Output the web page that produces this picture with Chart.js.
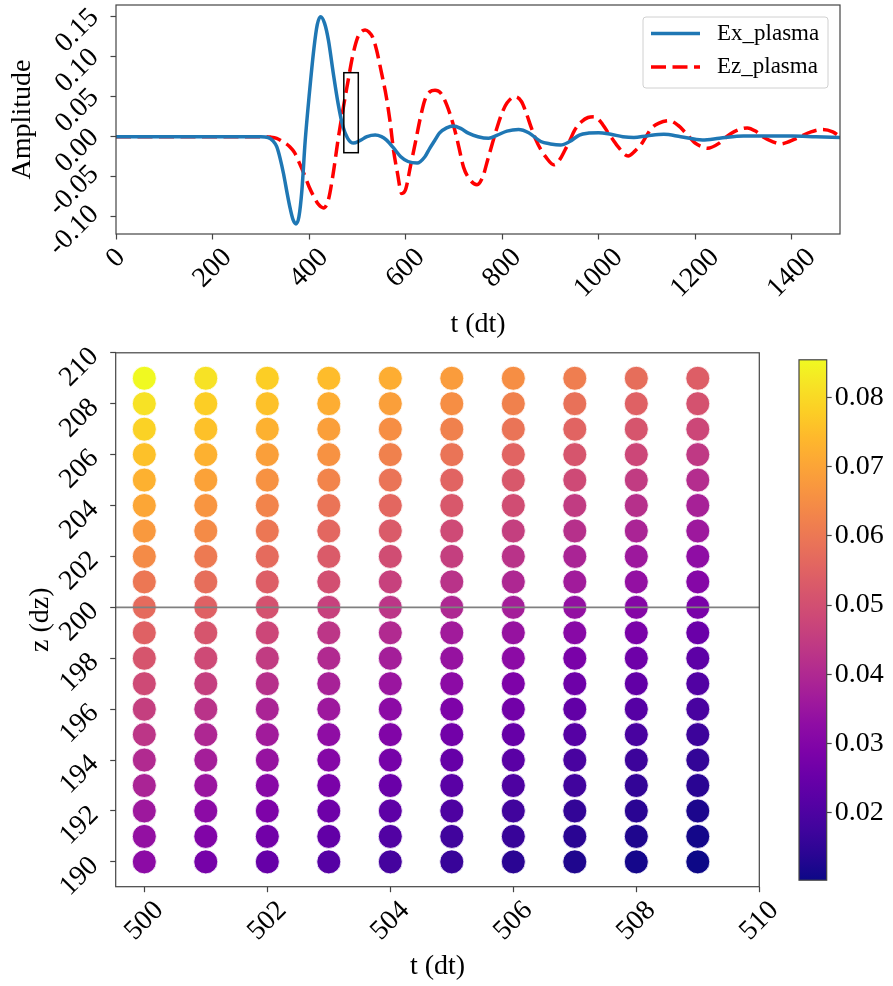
<!DOCTYPE html>
<html>
<head>
<meta charset="utf-8">
<title>Ex / Ez plasma</title>
<script src="https://cdn.jsdelivr.net/npm/chart.js@4.4.1/dist/chart.umd.min.js"></script>
<style>
  html, body { margin: 0; padding: 0; background: #fff; }
  #wrap { position: relative; width: 893px; height: 986px; }
  canvas { position: absolute; }
  #chartSenal { left: 0; top: 0; }
  #chartPuntos { left: 0; top: 340px; }
  #chartEscala { left: 780px; top: 340px; }
</style>
</head>
<body>
<div id="wrap">
  <canvas id="chartSenal" width="893" height="341"></canvas>
  <canvas id="chartPuntos" width="893" height="646"></canvas>
  <canvas id="chartEscala" width="113" height="560"></canvas>
</div>
<script>
// --- señal temporal (panel superior)
const exT = [0, 100, 200, 300, 315, 325, 333, 340, 347, 355, 361, 367, 373, 379, 385, 392, 400, 410, 417, 424,
  432, 440, 450, 460, 470, 480, 492, 505, 520, 537, 550, 560, 575, 590, 605, 624, 640, 650, 660, 670,
  685, 699, 715, 730, 750, 772, 790, 810, 834, 855, 880, 900, 921, 940, 960, 980, 1000, 1025, 1050, 1073,
  1100, 1135, 1170, 1215, 1250, 1300, 1350, 1400, 1450, 1500];
const exAmp = [0, 0, 0, 0, -0.001, -0.005, -0.0125, -0.027, -0.046, -0.072, -0.090, -0.104, -0.109, -0.100, -0.068, -0.005, 0.050, 0.110, 0.140, 0.150,
  0.142, 0.121, 0.080, 0.042, 0.013, -0.002, -0.008, -0.005, 0.000, 0.002, 0.000, -0.004, -0.014, -0.025, -0.031, -0.033, -0.025, -0.0145, -0.005, 0.0045,
  0.011, 0.0134, 0.010, 0.0045, 0.000, -0.002, 0.002, 0.007, 0.009, 0.005, -0.006, -0.009, -0.0104, -0.006, 0.002, 0.0045, 0.005, 0.003, 0.000, -0.001,
  0.001, 0.003, 0.000, -0.004, -0.002, 0.001, 0.001, 0.001, 0.000, -0.001];

const ezT = [0, 100, 200, 300, 320, 333, 345, 360, 370, 380, 390, 400, 410, 420, 430, 440, 450, 460, 470, 480,
  490, 500, 508, 516, 524, 532, 540, 550, 560, 568, 575, 583, 592, 600, 610, 620, 630, 640, 650, 661,
  672, 685, 700, 710, 720, 735, 748, 760, 770, 780, 790, 800, 810, 827, 840, 850, 860, 870, 880, 890,
  907, 920, 930, 940, 950, 965, 978, 990, 1005, 1020, 1030, 1040, 1061, 1075, 1090, 1100, 1110, 1125, 1146, 1165,
  1180, 1200, 1212, 1225, 1250, 1265, 1280, 1308, 1325, 1340, 1360, 1377, 1395, 1410, 1440, 1464, 1485, 1500];
const ezAmp = [0, 0, 0, 0, -0.0005, -0.002, -0.006, -0.0125, -0.020, -0.033, -0.047, -0.0625, -0.075, -0.085, -0.089, -0.079, -0.046, -0.004, 0.033, 0.067,
  0.100, 0.123, 0.131, 0.1335, 0.131, 0.124, 0.108, 0.080, 0.050, 0.018, -0.017, -0.045, -0.071, -0.066, -0.037, -0.008, 0.022, 0.046, 0.056, 0.058,
  0.055, 0.040, 0.0125, -0.012, -0.038, -0.055, -0.060, -0.050, -0.029, -0.008, 0.0125, 0.030, 0.042, 0.050, 0.044, 0.0295, 0.012, -0.004, -0.016, -0.025,
  -0.035, -0.028, -0.017, -0.005, 0.008, 0.019, 0.024, 0.025, 0.018, 0.0045, -0.004, -0.0125, -0.024, -0.018, -0.008, 0.002, 0.011, 0.017, 0.020, 0.014,
  0.005, -0.008, -0.012, -0.0145, -0.008, 0.000, 0.006, 0.011, 0.007, 0.000, -0.006, -0.009, -0.006, -0.002, 0.006, 0.009, 0.006, 0.000];

const tTicks = [0, 200, 400, 600, 800, 1000, 1200, 1400];
const ampTicks = [-0.10, -0.05, 0.00, 0.05, 0.10, 0.15];
// ventana ampliada abajo
const boxT = [472, 502];
const boxAmp = [-0.02, 0.08];

// --- malla t-z (panel inferior), cada columna de z=190 a z=209
const tSteps = [500, 501, 502, 503, 504, 505, 506, 507, 508, 509];
const zCells = [190, 191, 192, 193, 194, 195, 196, 197, 198, 199, 200, 201, 202, 203, 204, 205, 206, 207, 208, 209];
const amp500 = [0.0321, 0.0336, 0.0358, 0.0388, 0.0403, 0.0433, 0.0456, 0.0486, 0.0516, 0.0546, 0.0569, 0.0599, 0.0644, 0.0674, 0.0704, 0.0726, 0.0756, 0.0786, 0.0816, 0.0854];
const amp501 = [0.0276, 0.0298, 0.0321, 0.0351, 0.0373, 0.0396, 0.0426, 0.0456, 0.0486, 0.0516, 0.0546, 0.0576, 0.0606, 0.0644, 0.0666, 0.0696, 0.0726, 0.0756, 0.0779, 0.0816];
const amp502 = [0.0246, 0.0268, 0.0291, 0.0313, 0.0343, 0.0366, 0.0388, 0.0418, 0.0448, 0.0479, 0.0509, 0.0539, 0.0569, 0.0599, 0.0629, 0.0659, 0.0689, 0.0726, 0.0756, 0.0779];
const amp503 = [0.0216, 0.0238, 0.0261, 0.0283, 0.0306, 0.0328, 0.0358, 0.0381, 0.0403, 0.0433, 0.0463, 0.0501, 0.0531, 0.0561, 0.0591, 0.0629, 0.0659, 0.0689, 0.0719, 0.0749];
const amp504 = [0.0186, 0.0208, 0.0231, 0.0253, 0.0276, 0.0298, 0.0321, 0.0351, 0.0373, 0.0403, 0.0433, 0.0463, 0.0494, 0.0531, 0.0561, 0.0591, 0.0621, 0.0651, 0.0689, 0.0719];
const amp505 = [0.0163, 0.0178, 0.0201, 0.0223, 0.0246, 0.0268, 0.0291, 0.0321, 0.0343, 0.0366, 0.0396, 0.0426, 0.0456, 0.0486, 0.0524, 0.0554, 0.0591, 0.0621, 0.0651, 0.0681];
const amp506 = [0.0141, 0.0163, 0.0178, 0.0201, 0.0223, 0.0246, 0.0268, 0.0291, 0.0321, 0.0343, 0.0373, 0.0396, 0.0426, 0.0456, 0.0494, 0.0524, 0.0554, 0.0591, 0.0621, 0.0651];
const amp507 = [0.0126, 0.0141, 0.0156, 0.0178, 0.0193, 0.0216, 0.0238, 0.0261, 0.0283, 0.0313, 0.0336, 0.0366, 0.0388, 0.0418, 0.0448, 0.0486, 0.0516, 0.0554, 0.0584, 0.0614];
const amp508 = [0.0114, 0.0126, 0.0141, 0.0156, 0.0171, 0.0193, 0.0216, 0.0238, 0.0261, 0.0283, 0.0306, 0.0336, 0.0358, 0.0388, 0.0418, 0.0448, 0.0479, 0.0516, 0.0546, 0.0576];
const amp509 = [0.0103, 0.0112, 0.0122, 0.0141, 0.0156, 0.0171, 0.0193, 0.0208, 0.0231, 0.0253, 0.0283, 0.0306, 0.0328, 0.0358, 0.0381, 0.0411, 0.0441, 0.0479, 0.0509, 0.0539];
const ampColumns = [amp500, amp501, amp502, amp503, amp504, amp505, amp506, amp507, amp508, amp509];

const gridTTicks = [500, 502, 504, 506, 508, 510];
const gridZTicks = [190, 192, 194, 196, 198, 200, 202, 204, 206, 208, 210];
const colorbarTicks = [0.02, 0.03, 0.04, 0.05, 0.06, 0.07, 0.08];
const lineaZ = 200;

const fuente = "'Liberation Serif', 'Times New Roman', serif";
Chart.defaults.font.family = fuente;
Chart.defaults.color = '#000';

// mapa de color "plasma"
const plasma = [
  [13, 8, 135], [65, 4, 157], [106, 0, 168], [143, 13, 164], [177, 42, 144], [204, 71, 120],
  [225, 100, 98], [242, 132, 75], [252, 166, 54], [252, 206, 37], [240, 249, 33]
];
const plasmaMid = [
  [42, 5, 147], [86, 1, 164], [126, 3, 168], [161, 27, 155], [191, 57, 132],
  [214, 85, 109], [234, 116, 87], [248, 149, 64], [254, 184, 44], [247, 226, 37]
];
// paleta de 21 pasos intercalando los puntos medios
const paleta = [];
plasma.forEach((c, i) => { paleta.push(c); if (i < plasmaMid.length) paleta.push(plasmaMid[i]); });

function colorPlasma(f) {
  f = Math.max(0, Math.min(1, f));
  const p = f * (paleta.length - 1);
  const i = Math.min(Math.floor(p), paleta.length - 2);
  const r = p - i;
  const a = paleta[i], b = paleta[i + 1];
  return `rgb(${Math.round(a[0] + (b[0] - a[0]) * r)}, ${Math.round(a[1] + (b[1] - a[1]) * r)}, ${Math.round(a[2] + (b[2] - a[2]) * r)})`;
}

const todos = ampColumns.flat();
const vMin = Math.min(...todos);
const vMax = Math.max(...todos);

// marco completo alrededor del área de dibujo
const marco = {
  id: 'marco',
  afterDatasetsDraw(chart) {
    const { ctx, chartArea: a } = chart;
    ctx.save();
    ctx.strokeStyle = '#444';
    ctx.lineWidth = 1.2;
    ctx.strokeRect(a.left, a.top, a.right - a.left, a.bottom - a.top);
    ctx.restore();
  }
};

// etiquetas de los ejes giradas 45 grados
const giro = {
  id: 'giro',
  afterDraw(chart, args, opts) {
    const ctx = chart.ctx;
    const xs = chart.scales.x, ys = chart.scales.y;
    const alto = opts.size * 0.7;
    ctx.save();
    ctx.font = `${opts.size}px ${fuente}`;
    ctx.fillStyle = '#000';
    ctx.textAlign = 'center';
    ctx.textBaseline = 'middle';
    const escribir = (txt, x, y) => {
      ctx.save();
      ctx.translate(x, y);
      ctx.rotate(-Math.PI / 4);
      ctx.fillText(txt, 0, 0);
      ctx.restore();
    };
    xs.ticks.forEach(t => {
      const txt = t.value.toFixed(opts.decX);
      const d = (ctx.measureText(txt).width + alto) / (2 * Math.SQRT2);
      escribir(txt, xs.getPixelForValue(t.value), xs.top + 12.5 + d);
    });
    ys.ticks.forEach(t => {
      const txt = t.value.toFixed(opts.decY);
      const d = (ctx.measureText(txt).width + alto) / (2 * Math.SQRT2);
      escribir(txt, ys.right - 14.5 - d, ys.getPixelForValue(t.value) + opts.dy);
    });
    ctx.restore();
  }
};

// leyenda dentro del área, esquina superior derecha
const leyenda = {
  id: 'leyenda',
  afterDraw(chart) {
    const { ctx, chartArea: a } = chart;
    const w = 185, h = 71;
    const x0 = a.right - 12 - w, y0 = a.top + 12;
    ctx.save();
    ctx.fillStyle = 'rgba(255,255,255,0.8)';
    ctx.strokeStyle = '#d0d0d0';
    ctx.lineWidth = 1;
    ctx.beginPath();
    ctx.roundRect(x0, y0, w, h, 3);
    ctx.fill();
    ctx.stroke();
    ctx.font = `23px ${fuente}`;
    ctx.textBaseline = 'middle';
    chart.data.datasets.forEach((ds, i) => {
      const y = y0 + 16.5 + i * 33.5;
      ctx.strokeStyle = ds.borderColor;
      ctx.lineWidth = ds.borderWidth;
      ctx.setLineDash(ds.borderDash || []);
      ctx.beginPath();
      ctx.moveTo(x0 + 8, y);
      ctx.lineTo(x0 + 57, y);
      ctx.stroke();
      ctx.setLineDash([]);
      ctx.fillStyle = '#000';
      ctx.fillText(ds.label, x0 + 74, y);
    });
    ctx.restore();
  }
};

// recuadro de la ventana ampliada
const recuadro = {
  id: 'recuadro',
  afterDatasetsDraw(chart) {
    const { ctx, scales: { x, y } } = chart;
    const x1 = x.getPixelForValue(boxT[0]), x2 = x.getPixelForValue(boxT[1]);
    const y1 = y.getPixelForValue(boxAmp[1]), y2 = y.getPixelForValue(boxAmp[0]);
    ctx.save();
    ctx.strokeStyle = '#000';
    ctx.lineWidth = 1.5;
    ctx.strokeRect(x1, y1, x2 - x1, y2 - y1);
    ctx.restore();
  }
};

// línea horizontal en z = 200
const lineaHorizontal = {
  id: 'lineaHorizontal',
  afterDatasetsDraw(chart) {
    const { ctx, chartArea: a, scales: { y } } = chart;
    const py = y.getPixelForValue(lineaZ);
    ctx.save();
    ctx.strokeStyle = '#808080';
    ctx.lineWidth = 1.6;
    ctx.beginPath();
    ctx.moveTo(a.left, py);
    ctx.lineTo(a.right, py);
    ctx.stroke();
    ctx.restore();
  }
};

const marcasEje = { drawOnChartArea: false, tickLength: 5.5, tickColor: '#444', tickWidth: 1.2 };

new Chart(document.getElementById('chartSenal'), {
  type: 'line',
  data: {
    datasets: [
      {
        label: 'Ex_plasma',
        data: exT.map((t, i) => ({ x: t, y: exAmp[i] })),
        borderColor: '#1f77b4',
        borderWidth: 3.5,
        pointRadius: 0,
        cubicInterpolationMode: 'monotone'
      },
      {
        label: 'Ez_plasma',
        data: ezT.map((t, i) => ({ x: t, y: ezAmp[i] })),
        borderColor: '#ff0000',
        borderWidth: 3.5,
        borderDash: [15, 6.5],
        pointRadius: 0,
        cubicInterpolationMode: 'monotone'
      }
    ]
  },
  options: {
    responsive: false,
    animation: false,
    events: [],
    layout: { padding: { top: 5, right: 53, left: 0, bottom: 0 } },
    plugins: {
      legend: { display: false },
      tooltip: { enabled: false },
      giro: { size: 28, decX: 0, decY: 2, dy: 14 }
    },
    scales: {
      x: {
        type: 'linear', min: 0, max: 1500,
        afterBuildTicks: s => { s.ticks = tTicks.map(v => ({ value: v })); },
        afterFit: s => { s.height = 107; },
        grid: marcasEje,
        border: { display: false },
        ticks: { display: false },
        title: { display: true, text: 't (dt)', font: { size: 28 }, padding: { top: 0, bottom: 0 } }
      },
      y: {
        min: -0.1216, max: 0.1646,
        afterBuildTicks: s => { s.ticks = ampTicks.map(v => ({ value: v })); },
        afterFit: s => { s.width = 116; },
        grid: marcasEje,
        border: { display: false },
        ticks: { display: false },
        title: { display: true, text: 'Amplitude', font: { size: 28 }, padding: { top: 6, bottom: 0 } }
      }
    }
  },
  plugins: [recuadro, marco, giro, leyenda]
});

const puntos = [];
tSteps.forEach((t, i) => {
  zCells.forEach((z, j) => puntos.push({ x: t, y: z, v: ampColumns[i][j] }));
});

new Chart(document.getElementById('chartPuntos'), {
  type: 'scatter',
  data: {
    datasets: [{
      data: puntos,
      pointRadius: 12,
      pointBorderColor: '#ffffff',
      pointBorderWidth: 0.8,
      pointBackgroundColor: c => colorPlasma((c.raw.v - vMin) / (vMax - vMin))
    }]
  },
  options: {
    responsive: false,
    animation: false,
    events: [],
    layout: { padding: { top: 10, right: 133.7, left: 0, bottom: 0 } },
    plugins: {
      legend: { display: false },
      tooltip: { enabled: false },
      giro: { size: 28, decX: 0, decY: 0, dy: 14.5 }
    },
    scales: {
      x: {
        type: 'linear', min: 499.535, max: 510,
        afterBuildTicks: s => { s.ticks = gridTTicks.map(v => ({ value: v })); },
        afterFit: s => { s.height = 99.3; },
        grid: marcasEje,
        border: { display: false },
        ticks: { display: false },
        title: { display: true, text: 't (dt)', font: { size: 28 }, padding: { top: 0, bottom: 3 } }
      },
      y: {
        min: 189.025, max: 210,
        afterBuildTicks: s => { s.ticks = gridZTicks.map(v => ({ value: v })); },
        afterFit: s => { s.width = 115.7; },
        grid: marcasEje,
        border: { display: false },
        ticks: { display: false },
        title: { display: true, text: 'z (dz)', font: { size: 28 }, padding: { top: 24, bottom: 0 } }
      }
    }
  },
  plugins: [lineaHorizontal, marco, giro]
});

// barra de color: una barra flotante de vMin a vMax rellena con el degradado
function degradado(chart) {
  const a = chart.chartArea;
  if (!a) return null;
  const g = chart.ctx.createLinearGradient(0, a.bottom, 0, a.top);
  paleta.forEach((c, i) => g.addColorStop(i / (paleta.length - 1), `rgb(${c[0]}, ${c[1]}, ${c[2]})`));
  return g;
}

new Chart(document.getElementById('chartEscala'), {
  type: 'bar',
  data: {
    labels: [''],
    datasets: [{
      data: [[vMin, vMax]],
      backgroundColor: c => degradado(c.chart),
      borderWidth: 0,
      barPercentage: 1,
      categoryPercentage: 1
    }]
  },
  options: {
    responsive: false,
    animation: false,
    events: [],
    layout: { padding: { top: 10, left: 19, right: 0, bottom: 13.3 } },
    plugins: { legend: { display: false }, tooltip: { enabled: false } },
    scales: {
      x: { display: false },
      y: {
        position: 'right',
        min: vMin, max: vMax,
        afterBuildTicks: s => { s.ticks = colorbarTicks.map(v => ({ value: v })); },
        afterFit: s => { s.width = 66.3; },
        grid: { drawOnChartArea: false, tickLength: 5, tickColor: '#444', tickWidth: 1.2 },
        border: { display: false },
        ticks: { font: { size: 28 }, padding: 3, callback: v => v.toFixed(2) }
      }
    }
  },
  plugins: [marco]
});
</script>
</body>
</html>
